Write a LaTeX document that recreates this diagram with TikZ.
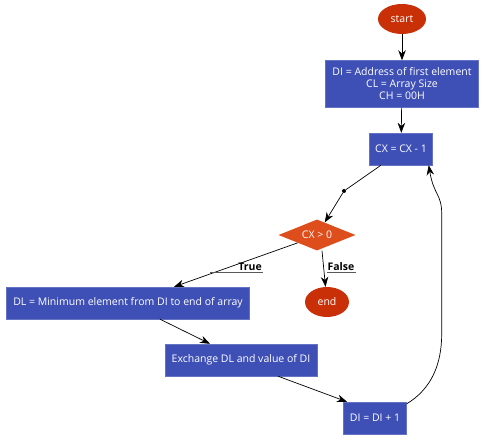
\documentclass[tikz,border=0pt]{standalone}
\usepackage{fontspec}
\setmainfont{Open Sans}
\definecolor{boxBlue}{RGB}{62,80,182}
\definecolor{ovalRed}{RGB}{202,48,8}
\definecolor{decOrange}{RGB}{222,78,28}
\usetikzlibrary{shapes.geometric,arrows.meta,positioning,calc}

\begin{document}
\begin{tikzpicture}[x=1pt, y=1pt,
    every node/.style={font=\fontsize{10.5}{12}\selectfont},
    procbox/.style={rectangle, fill=boxBlue, draw=boxBlue!80!white, text=white, align=center, minimum height=32pt, inner sep=2pt},
    termoval/.style={ellipse, fill=ovalRed, text=white, inner sep=0pt},
    decbox/.style={diamond, aspect=2.5, fill=decOrange, text=white, inner sep=0pt, minimum width=77pt, minimum height=31pt},
    arr/.style={-{Stealth[length=10pt, width=7.5pt]}, line width=0.7pt},
    branch/.style={font=\fontsize{10.5}{12}\selectfont\bfseries, inner sep=1pt}]
  \useasboundingbox (0,0) rectangle (500,444);
  \node[termoval, minimum width=48pt, minimum height=30pt] (start) at (402,425) {start};
  \node[procbox, minimum width=153pt, minimum height=47pt] (init) at (402,360)
    {DI = Address of first element\\CL = Array Size\\CH = 00H};
  \node[procbox, minimum width=63pt] (cx) at (401,295) {CX = CX - 1};
  \node[circle, fill=black, inner sep=0pt, minimum size=4pt] (dot) at (344,253) {};
  \node[decbox] (dec) at (317,209) {CX > 0};
  \node[procbox, minimum width=243pt] (dl) at (128,141) {DL = Minimum element from DI to end of array};
  \node[termoval, minimum width=44pt, minimum height=30pt] (fin) at (327,142) {end};
  \node[procbox, minimum width=152pt] (exch) at (241,84) {Exchange DL and value of DI};
  \node[procbox, minimum width=63pt] (di) at (375,26) {DI = DI + 1};
  % Arrows
  \draw[arr] (start) -- (init);
  \draw[arr] (init) -- (cx);
  \draw[line width=0.7pt] ([xshift=-20pt]cx.south) -- (dot);
  \draw[arr] (dot) -- (dec);
  \draw[arr] (dec.south west) -- ([xshift=46pt]dl.north);
  \draw[arr] ([xshift=5pt]dec.south) -- (fin);
  \draw[arr] ([xshift=32pt]dl.south) -- ([xshift=-31pt]exch.north);
  \draw[arr] ([xshift=37pt]exch.south) -- ([xshift=-28pt]di.north);
  % Loop back
  \draw[arr] ([yshift=-2pt]di.north east) .. controls +(25,15) and +(0,-30) .. ++(35,70)
    -- ++(0,120) .. controls +(0,20) and +(5,-30) .. ([xshift=-4pt]cx.south east);
  % Branch labels
  \node[branch] (yes) at (250,177) {True};
  \draw[gray!70!black] (yes.south east) -- +(-53,0);
  \node[branch] (no) at (341,177) {False};
  \draw[gray!70!black] (no.south east) -- +(-29,0);
\end{tikzpicture}
\end{document}
